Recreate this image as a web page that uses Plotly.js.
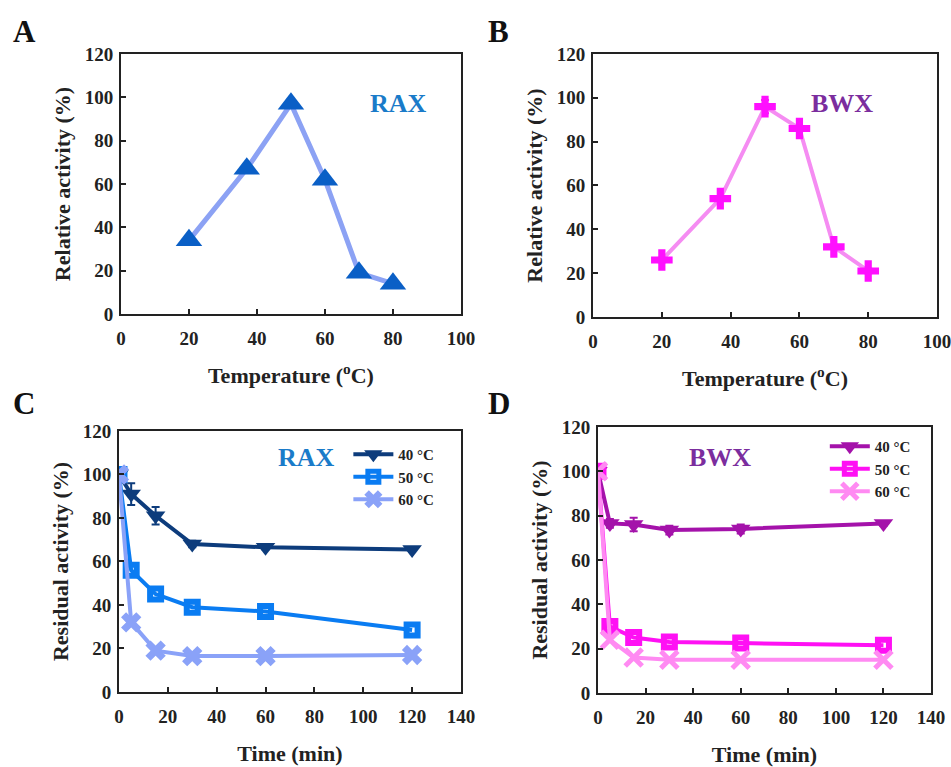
<!DOCTYPE html>
<html><head><meta charset="utf-8">
<script src="https://cdn.plot.ly/plotly-3.0.1.min.js"></script>
<style>html,body{margin:0;padding:0;background:#fff}#chart{width:951px;height:767px}</style>
</head><body><div id="chart"></div>
<script>
// Data
const tempX = [20, 37, 50, 60, 70, 80];
const raxTemp = [34, 67, 97, 62, 19, 14];
const bwxTemp = [26, 54, 96, 86, 32, 21];
const timeX = [0, 5, 15, 30, 60, 120];
const rax40 = [100, 91, 81, 68, 66.5, 65.5];
const rax40err = [0, 5, 4, 1.5, 1, 1];
const rax50 = [100, 56, 45, 39, 37, 28.5];
const rax60 = [100, 32, 19, 16.5, 16.5, 17];
const bwx40 = [100, 76.5, 76, 73.5, 74, 76.5];
const bwx40err = [0, 2, 3, 2, 2, 1];
const bwx50 = [100, 30, 25, 23, 22.5, 21.5];
const bwx60 = [100, 24, 16, 15, 15, 15];
const seriesNames = ['40 °C', '50 °C', '60 °C'];

const F = 'Liberation Serif, DejaVu Serif, serif';
const tickFont = {family: F, size: 19, color: '#222', weight: 'bold'};
const titleFont = {family: F, size: 22, color: '#222', weight: 'bold'};

const traces = [
  {x: tempX, y: raxTemp, xaxis: 'x', yaxis: 'y', mode: 'lines+markers', showlegend: false,
   line: {color: '#8ca2f4', width: 5}, marker: {symbol: 'triangle-up', size: 23, color: '#0a5fc6'}},
  {x: tempX, y: bwxTemp, xaxis: 'x2', yaxis: 'y2', mode: 'lines+markers', showlegend: false,
   line: {color: '#f58cf2', width: 4}, marker: {symbol: 'cross', size: 18, color: '#ff10ff'},
   error_y: {type: 'data', array: [1, 1, 3, 1, 1, 1], color: '#ff10ff', thickness: 2, width: 4}},
  {x: timeX, y: rax40, xaxis: 'x3', yaxis: 'y3', mode: 'lines+markers', name: seriesNames[0], legend: 'legend',
   line: {color: '#0d3c7c', width: 4}, marker: {symbol: 'triangle-down', size: 17, color: '#0d3c7c'},
   error_y: {type: 'data', array: rax40err, color: '#0d3c7c', thickness: 2, width: 4}},
  {x: timeX, y: rax50, xaxis: 'x3', yaxis: 'y3', mode: 'lines+markers', name: seriesNames[1], legend: 'legend',
   line: {color: '#0a7cf2', width: 4}, marker: {symbol: 'square-open', size: 11, color: '#0a7cf2', line: {width: 6, color: '#0a7cf2'}}},
  {x: timeX, y: rax60, xaxis: 'x3', yaxis: 'y3', mode: 'lines+markers', name: seriesNames[2], legend: 'legend',
   line: {color: '#8aa2f8', width: 4}, marker: {symbol: 'x', size: 18, color: '#8aa2f8'}},
  {x: timeX, y: bwx40, xaxis: 'x4', yaxis: 'y4', mode: 'lines+markers', name: seriesNames[0], legend: 'legend2',
   line: {color: '#a412aa', width: 4}, marker: {symbol: 'triangle-down', size: 17, color: '#a412aa'},
   error_y: {type: 'data', array: bwx40err, color: '#a412aa', thickness: 2, width: 4}},
  {x: timeX, y: bwx50, xaxis: 'x4', yaxis: 'y4', mode: 'lines+markers', name: seriesNames[1], legend: 'legend2',
   line: {color: '#ff10f4', width: 4}, marker: {symbol: 'square-open', size: 11, color: '#ff10f4', line: {width: 6, color: '#ff10f4'}}},
  {x: timeX, y: bwx60, xaxis: 'x4', yaxis: 'y4', mode: 'lines+markers', name: seriesNames[2], legend: 'legend2',
   line: {color: '#ff8af2', width: 4}, marker: {symbol: 'x-thin-open', size: 17, color: '#ff8af2', line: {width: 5, color: '#ff8af2'}}}
];

function xax(domain, anchor, range, title) {
  return {domain: domain, anchor: anchor, range: range, dtick: 20, tick0: 0, showline: true, linecolor: '#222', linewidth: 2,
    mirror: true, ticks: 'inside', ticklen: 5, tickwidth: 2, tickcolor: '#222', showgrid: false, zeroline: false,
    ticklabelstandoff: 6, ticklabeloverflow: 'allow',
    tickfont: tickFont, title: {text: title, font: titleFont, standoff: 20}, fixedrange: true};
}
function yax(domain, anchor, title) {
  return {domain: domain, anchor: anchor, range: [0, 120], dtick: 20, showline: true, linecolor: '#222', linewidth: 2,
    mirror: true, ticks: 'inside', ticklen: 5, tickwidth: 2, tickcolor: '#222', showgrid: false, zeroline: false,
    ticklabelstandoff: 2, ticklabeloverflow: 'allow',
    tickfont: tickFont, title: {text: title, font: titleFont, standoff: 8}, fixedrange: true};
}

const legendFont = {family: F, size: 15, color: '#222', weight: 'bold'};
const layout = {
  width: 951, height: 767, margin: {l: 0, r: 0, t: 0, b: 0},
  paper_bgcolor: '#fff', plot_bgcolor: '#fff', font: {family: F},
  xaxis: xax([0.1272, 0.4847], 'y', [0, 100], 'Temperature (<sup>o</sup>C)'),
  yaxis: yax([0.5906, 0.9296], 'x', 'Relative activity (%)'),
  xaxis2: xax([0.6236, 0.9853], 'y2', [0, 100], 'Temperature (<sup>o</sup>C)'),
  yaxis2: yax([0.5867, 0.9296], 'x2', 'Relative activity (%)'),
  xaxis3: xax([0.1251, 0.4847], 'y3', [0, 140], 'Time (min)'),
  yaxis3: yax([0.0978, 0.4381], 'x3', 'Residual activity (%)'),
  xaxis4: xax([0.6288, 0.9790], 'y4', [0, 140], 'Time (min)'),
  yaxis4: yax([0.0965, 0.4433], 'x4', 'Residual activity (%)'),
  legend: {x: 0.462, y: 1 - 438/767, xanchor: 'right', yanchor: 'top', bgcolor: 'rgba(0,0,0,0)',
    font: legendFont, tracegroupgap: 0, itemwidth: 40},
  legend2: {x: 0.963, y: 1 - 430/767, xanchor: 'right', yanchor: 'top', bgcolor: 'rgba(0,0,0,0)',
    font: legendFont, tracegroupgap: 0, itemwidth: 40},
  annotations: [
    {text: 'A', xref: 'paper', yref: 'paper', x: 11/951, y: 1 - 12/767, xanchor: 'left', yanchor: 'top', showarrow: false, font: {family: F, size: 31, color: '#111', weight: 'bold'}},
    {text: 'B', xref: 'paper', yref: 'paper', x: 486/951, y: 1 - 12/767, xanchor: 'left', yanchor: 'top', showarrow: false, font: {family: F, size: 31, color: '#111', weight: 'bold'}},
    {text: 'C', xref: 'paper', yref: 'paper', x: 11/951, y: 1 - 384/767, xanchor: 'left', yanchor: 'top', showarrow: false, font: {family: F, size: 31, color: '#111', weight: 'bold'}},
    {text: 'D', xref: 'paper', yref: 'paper', x: 486/951, y: 1 - 384/767, xanchor: 'left', yanchor: 'top', showarrow: false, font: {family: F, size: 31, color: '#111', weight: 'bold'}},
    {text: 'RAX', xref: 'paper', yref: 'paper', x: 398/951, y: 1 - 87/767, showarrow: false, font: {family: F, size: 26, color: '#1a7bc9', weight: 'bold'}},
    {text: 'BWX', xref: 'paper', yref: 'paper', x: 875/951, y: 1 - 87/767, showarrow: false, font: {family: F, size: 26, color: '#7b2d9e', weight: 'bold'}},
    {text: 'RAX', xref: 'paper', yref: 'paper', x: 276/951, y: 1 - 457/767, showarrow: false, font: {family: F, size: 26, color: '#1a7bc9', weight: 'bold'}},
    {text: 'BWX', xref: 'paper', yref: 'paper', x: 753/951, y: 1 - 457/767, showarrow: false, font: {family: F, size: 26, color: '#7b2d9e', weight: 'bold'}}
  ]
};

Plotly.newPlot('chart', traces, layout, {staticPlot: true, displayModeBar: false});
</script></body></html>
